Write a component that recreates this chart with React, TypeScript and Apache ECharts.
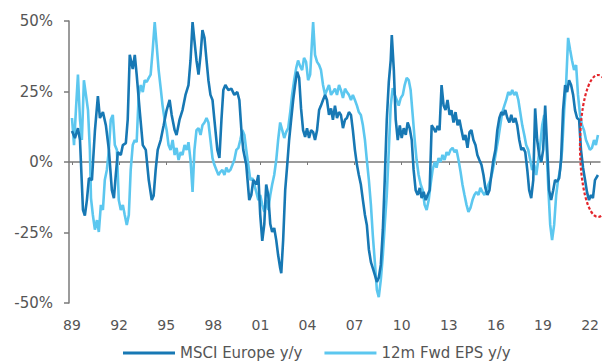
import React, { useEffect, useRef } from "react";
import * as echarts from "echarts";

// x tick years (labels shown as two digits)
const yearTicks = [1989, 1992, 1995, 1998, 2001, 2004, 2007, 2010, 2013, 2016, 2019, 2022];
const legendNames = ["MSCI Europe y/y", "12m Fwd EPS y/y"];

// [decimal year, % y/y]
const msciEurope: [number, number][] = [
  [1989.00, 11], [1989.19, 8.5], [1989.38, 12], [1989.51, 7.8], [1989.70, -17], [1989.82, -19],
  [1989.95, -13.5], [1990.08, -5.7], [1990.27, -6.4], [1990.46, 11], [1990.65, 23.4], [1990.78, 15.6],
  [1990.97, 17.7], [1991.16, 13], [1991.35, 4.3], [1991.54, -10], [1991.67, -12.8], [1991.79, -4.6],
  [1991.92, 3.5], [1992.11, 2.5], [1992.24, 6], [1992.43, 6.7], [1992.55, 15], [1992.68, 38],
  [1992.87, 33], [1993.00, 38], [1993.12, 31], [1993.31, 18.4], [1993.51, 6], [1993.70, 4.3],
  [1993.89, -6.4], [1994.08, -13.5], [1994.20, -12], [1994.33, -2.8], [1994.46, 4.3], [1994.65, 7.8],
  [1994.84, 13], [1995.03, 18.4], [1995.22, 22], [1995.35, 16.7], [1995.54, 11.3], [1995.66, 9.6],
  [1995.85, 15], [1996.04, 18.4], [1996.23, 23.8], [1996.42, 27.3], [1996.55, 36], [1996.68, 49.6],
  [1996.80, 43], [1996.93, 36], [1997.06, 31], [1997.19, 38], [1997.31, 46.8], [1997.44, 44],
  [1997.57, 36], [1997.69, 29], [1997.82, 23.8], [1997.95, 22], [1998.07, 15], [1998.26, 4.3],
  [1998.39, 1.4], [1998.52, 15], [1998.64, 25.5], [1998.77, 27.3], [1998.96, 25.5], [1999.15, 26],
  [1999.34, 23.8], [1999.53, 24.8], [1999.66, 22], [1999.79, 11.3], [1999.91, 4.3], [2000.10, -1],
  [2000.29, -13.5], [2000.42, -11.7], [2000.55, -6.4], [2000.74, -8], [2000.87, -4.6], [2000.99, -18.8],
  [2001.12, -28], [2001.25, -22], [2001.37, -8], [2001.50, -11.7], [2001.63, -22], [2001.75, -24.8],
  [2001.88, -23.4], [2002.01, -27.7], [2002.13, -33], [2002.26, -37.6], [2002.33, -39.4], [2002.45, -27.7],
  [2002.58, -10], [2002.71, -1], [2002.83, 7.8], [2002.96, 15], [2003.09, 22], [2003.21, 27.3],
  [2003.34, 32], [2003.47, 29.8], [2003.59, 19], [2003.72, 11.3], [2003.85, 8.9], [2003.97, 12],
  [2004.10, 8.5], [2004.23, 11.3], [2004.36, 10.6], [2004.48, 7.8], [2004.61, 11.3], [2004.74, 18.4],
  [2004.86, 20], [2004.99, 22], [2005.12, 23.8], [2005.24, 22], [2005.37, 16.7], [2005.50, 19],
  [2005.62, 15], [2005.75, 20], [2005.88, 15.6], [2006.01, 17.7], [2006.13, 16.7], [2006.26, 12],
  [2006.39, 15], [2006.51, 15.6], [2006.64, 17.7], [2006.77, 16.7], [2006.89, 11.3], [2007.02, 4.3],
  [2007.15, -1], [2007.27, -4.6], [2007.40, -8], [2007.53, -13.5], [2007.66, -18.8], [2007.78, -22.3],
  [2007.91, -31], [2008.04, -35.5], [2008.16, -37.6], [2008.29, -40], [2008.42, -42.5], [2008.54, -41],
  [2008.67, -36.5], [2008.80, -24], [2008.92, -6.4], [2009.05, 15], [2009.18, 28.4], [2009.30, 36],
  [2009.37, 45], [2009.50, 32.6], [2009.62, 15], [2009.75, 7.8], [2009.88, 13], [2010.00, 8.5],
  [2010.13, 12], [2010.26, 9.6], [2010.38, 14], [2010.51, 12], [2010.64, 7.8], [2010.76, -2.8],
  [2010.89, -10], [2011.02, -11.7], [2011.15, -9.2], [2011.27, -12.8], [2011.40, -10.6], [2011.53, -13.5],
  [2011.65, -11.7], [2011.78, -10], [2011.91, 13], [2012.03, 12], [2012.16, 10.6], [2012.29, 12.8],
  [2012.41, 11.3], [2012.54, 27.3], [2012.67, 20], [2012.79, 18.4], [2012.92, 22], [2013.05, 16.7],
  [2013.17, 18.4], [2013.30, 14], [2013.43, 17.7], [2013.56, 13], [2013.68, 15], [2013.81, 11.3],
  [2013.94, 7.8], [2014.06, 9.6], [2014.19, 5], [2014.32, 10.6], [2014.44, 11.3], [2014.57, 7.8],
  [2014.70, 6], [2014.82, 2.5], [2014.95, 0.7], [2015.08, -1], [2015.21, -4.6], [2015.33, -9.2],
  [2015.46, -11.7], [2015.59, -10], [2015.71, -4.6], [2015.84, 0.7], [2015.97, 4.3], [2016.09, 11.3],
  [2016.22, 15.6], [2016.35, 17.7], [2016.47, 16.7], [2016.60, 18.4], [2016.73, 15.6], [2016.86, 14],
  [2016.98, 16.7], [2017.11, 14], [2017.24, 15.6], [2017.36, 13], [2017.49, 7.8], [2017.62, 4.3],
  [2017.74, 5], [2017.87, 3.5], [2018.00, -2.8], [2018.12, -10], [2018.25, -12.8], [2018.38, -6.4],
  [2018.50, 19], [2018.63, 7.8], [2018.76, 2.5], [2018.89, 0], [2019.01, 4.3], [2019.14, 20],
  [2019.27, 4.3], [2019.39, -10], [2019.52, -13.5], [2019.65, -10], [2019.77, -6.4], [2019.90, -7],
  [2020.03, -5.7], [2020.15, 0.7], [2020.28, 18.4], [2020.41, 27.3], [2020.54, 24.8], [2020.66, 29],
  [2020.79, 27.3], [2020.92, 23.8], [2021.04, 18.4], [2021.17, 15.6], [2021.30, 15], [2021.42, 4.3],
  [2021.55, -2], [2021.68, -6.4], [2021.80, -10.6], [2021.93, -13.5], [2022.06, -11.7], [2022.18, -12.8],
  [2022.31, -6.4], [2022.50, -4.6],
];

const fwdEps: [number, number][] = [
  [1989.00, 15.6], [1989.13, 6], [1989.25, 18.4], [1989.38, 31], [1989.51, 15], [1989.63, 7.8],
  [1989.76, 29], [1989.89, 23.8], [1990.02, 18.4], [1990.14, 4.3], [1990.21, -12.8], [1990.33, -18.8],
  [1990.46, -24], [1990.59, -20.6], [1990.71, -24.8], [1990.84, -15.2], [1990.97, -17], [1991.09, -6.4],
  [1991.22, -2.8], [1991.35, 4.3], [1991.47, 15], [1991.60, 16.7], [1991.73, 6], [1991.86, 4.3],
  [1991.98, -13.5], [1992.11, -17], [1992.24, -15.2], [1992.36, -18.8], [1992.49, -22.3], [1992.62, -18.8],
  [1992.74, -2.8], [1992.87, 6], [1993.00, 7.8], [1993.12, 7], [1993.25, 23.8], [1993.38, 27.3],
  [1993.51, 24.8], [1993.63, 29], [1993.76, 28.4], [1993.89, 29.8], [1994.01, 31], [1994.14, 39.7],
  [1994.27, 49.6], [1994.39, 41.5], [1994.52, 32.6], [1994.65, 26.2], [1994.77, 20], [1994.90, 15],
  [1995.03, 11.3], [1995.15, 6], [1995.28, 4.3], [1995.41, 7.8], [1995.54, 2.5], [1995.66, 5],
  [1995.79, 0.7], [1995.92, 3.5], [1996.04, 2.5], [1996.17, 6], [1996.30, 4.3], [1996.42, 7],
  [1996.55, 0.7], [1996.68, -10.6], [1996.80, 4.3], [1996.93, 11.3], [1997.06, 12], [1997.19, 9.6],
  [1997.31, 13], [1997.44, 14], [1997.57, 15.6], [1997.69, 14], [1997.82, 7.8], [1997.95, 1.4],
  [1998.07, -1], [1998.20, -2.8], [1998.33, -4.6], [1998.45, -3.5], [1998.58, -2.8], [1998.71, -4.6],
  [1998.83, -2], [1998.96, -3.5], [1999.09, -2.8], [1999.22, -1], [1999.34, 0.7], [1999.47, 4.3],
  [1999.60, 5], [1999.72, 7.8], [1999.85, 11.3], [1999.98, 9.6], [2000.10, 4.3], [2000.23, -1],
  [2000.36, -6.4], [2000.49, -5.7], [2000.61, -8], [2000.74, -10.6], [2000.87, -13.5], [2000.99, -11.7],
  [2001.12, -15.2], [2001.25, -17.7], [2001.37, -13.5], [2001.50, -17], [2001.63, -11.7], [2001.75, -8],
  [2001.88, -4.6], [2002.01, 0.7], [2002.13, 7.8], [2002.26, 14], [2002.39, 11.3], [2002.52, 8.5],
  [2002.64, 10.6], [2002.77, 12], [2002.90, 17.7], [2003.02, 23.8], [2003.15, 29], [2003.28, 33.3],
  [2003.40, 36], [2003.53, 34], [2003.66, 32.6], [2003.78, 36.9], [2003.91, 35.5], [2004.04, 29],
  [2004.17, 31], [2004.29, 43], [2004.36, 49.6], [2004.48, 38], [2004.61, 35.5], [2004.74, 34.4],
  [2004.86, 32.6], [2004.99, 27.3], [2005.12, 23.8], [2005.24, 25.5], [2005.37, 27.3], [2005.50, 23.8],
  [2005.62, 24.8], [2005.75, 26], [2005.88, 23.8], [2006.01, 27.3], [2006.13, 25.5], [2006.26, 22.7],
  [2006.39, 26], [2006.51, 24.8], [2006.64, 23.8], [2006.77, 22], [2006.89, 23.8], [2007.02, 22],
  [2007.15, 20], [2007.27, 17.7], [2007.40, 16.7], [2007.53, 13], [2007.66, 7.8], [2007.78, 0.7],
  [2007.91, -6.4], [2008.04, -15.2], [2008.16, -25.9], [2008.29, -35.5], [2008.42, -45.4], [2008.54, -47.9],
  [2008.67, -41.8], [2008.80, -33], [2008.92, -22.3], [2009.05, -11.7], [2009.18, 4.3], [2009.30, 20],
  [2009.43, 26.2], [2009.56, 23.8], [2009.69, 22], [2009.81, 20], [2009.94, 22.7], [2010.07, 23.8],
  [2010.19, 27.3], [2010.32, 29.8], [2010.45, 29], [2010.57, 25.5], [2010.70, 16.7], [2010.83, 7.8],
  [2010.95, 0.7], [2011.08, -4.6], [2011.21, -8], [2011.34, -10], [2011.46, -15.2], [2011.59, -17],
  [2011.72, -13.5], [2011.84, -8], [2011.97, -2.8], [2012.10, 0], [2012.22, -2], [2012.35, 1.4],
  [2012.48, 0], [2012.60, 2.5], [2012.73, 0.7], [2012.86, 3.5], [2012.98, 2.5], [2013.11, 4.3],
  [2013.24, 5], [2013.37, 3.5], [2013.49, 4.3], [2013.62, 0.7], [2013.75, -3.5], [2013.87, -8],
  [2014.00, -11.7], [2014.13, -15.2], [2014.25, -17.7], [2014.38, -16.3], [2014.51, -13.5], [2014.63, -11.7],
  [2014.76, -10.6], [2014.89, -11.7], [2015.01, -9.2], [2015.14, -10.6], [2015.27, -11.7], [2015.40, -10],
  [2015.52, -8], [2015.65, -6.4], [2015.78, -3.5], [2015.90, 0], [2016.03, 4.3], [2016.16, 8.5],
  [2016.28, 13], [2016.41, 17.7], [2016.54, 20], [2016.66, 22], [2016.79, 24.8], [2016.92, 23.8],
  [2017.04, 25.5], [2017.17, 23.8], [2017.30, 24.8], [2017.43, 22], [2017.55, 17.7], [2017.68, 13],
  [2017.81, 9.6], [2017.93, 6], [2018.06, 4.3], [2018.19, 0.7], [2018.31, -2.8], [2018.44, -1],
  [2018.57, -4.6], [2018.70, 0.7], [2018.82, 6], [2018.95, 13], [2019.08, 16.7], [2019.20, 7.8],
  [2019.33, -8], [2019.46, -22.3], [2019.58, -27.7], [2019.71, -22.3], [2019.84, -11.7], [2019.96, -6.4],
  [2020.09, -2.8], [2020.22, 4.3], [2020.35, 18.4], [2020.47, 27.3], [2020.60, 44], [2020.73, 39.7],
  [2020.85, 36], [2020.98, 32.6], [2021.11, 34.4], [2021.23, 23.8], [2021.36, 16.7], [2021.49, 13],
  [2021.61, 11.3], [2021.74, 7.8], [2021.87, 6], [2021.99, 4.3], [2022.12, 5], [2022.25, 7.8],
  [2022.37, 6], [2022.50, 9.6],
];

const DARK = "#1778b4";
const LIGHT = "#5cc7ef";
const AXIS = "#7a7a7a";
const TEXT = "#555555";
const FONT = "DejaVu Sans";
const X_MIN = 1988.81;
const X_MAX = 2022.63;

export default function App() {
  const ref = useRef<HTMLDivElement>(null);

  useEffect(() => {
    if (!ref.current) return;
    const chart = echarts.init(ref.current, null, { renderer: "svg" });
    chart.setOption({
      animation: false,
      backgroundColor: "#ffffff",
      textStyle: { fontFamily: FONT },
      grid: { left: 69, right: 0, top: 21, bottom: 59, containLabel: false },
      legend: {
        data: legendNames,
        left: 123,
        top: 345,
        padding: 0,
        icon: "rect",
        itemWidth: 52,
        itemHeight: 3,
        itemGap: 22,
        textStyle: { color: TEXT, fontSize: 15, fontFamily: FONT, lineHeight: 16 },
      },
      xAxis: [
        {
          type: "value",
          min: X_MIN,
          max: X_MAX,
          position: "bottom",
          axisLine: { show: false, onZero: false },
          axisTick: { show: false },
          splitLine: { show: false },
          axisLabel: {
            customValues: yearTicks,
            formatter: (v: number) => String(Math.round(v)).slice(2),
            color: TEXT,
            fontSize: 14,
            fontFamily: FONT,
            margin: 15,
          },
        },
        {
          type: "value",
          min: X_MIN,
          max: X_MAX,
          position: "top",
          axisLine: { show: true, onZero: true, lineStyle: { color: AXIS, width: 1.5 } },
          axisTick: { show: true, inside: true, length: 3, customValues: yearTicks, lineStyle: { color: AXIS, width: 1 } },
          axisLabel: { show: false },
          splitLine: { show: false },
        },
      ],
      yAxis: {
        type: "value",
        min: -50,
        max: 50,
        interval: 25,
        axisLine: { show: true, onZero: false, lineStyle: { color: AXIS, width: 1.5 } },
        axisTick: { show: true, length: 5, lineStyle: { color: AXIS, width: 1.5 } },
        axisLabel: { formatter: "{value}%", color: TEXT, fontSize: 15, fontFamily: FONT, margin: 16 },
        splitLine: { show: false },
      },
      series: [
        {
          name: legendNames[0],
          type: "line",
          xAxisIndex: 0,
          data: msciEurope,
          showSymbol: false,
          symbol: "none",
          z: 3,
          color: DARK,
          lineStyle: { color: DARK, width: 2.6 },
        },
        {
          name: legendNames[1],
          type: "line",
          xAxisIndex: 0,
          data: fwdEps,
          showSymbol: false,
          symbol: "none",
          z: 2,
          color: LIGHT,
          lineStyle: { color: LIGHT, width: 2.6 },
        },
      ],
      graphic: [
        {
          type: "ellipse",
          shape: { cx: 598, cy: 146, rx: 18, ry: 71 },
          style: { fill: "none", stroke: "#e3262c", lineWidth: 2.2, lineDash: [3, 2] },
          z: 10,
        },
      ],
    });
    return () => chart.dispose();
  }, []);

  return (
    <div
      ref={ref}
      style={{ position: "absolute", left: 0, top: 0, width: 602, height: 362 }}
    />
  );
}
